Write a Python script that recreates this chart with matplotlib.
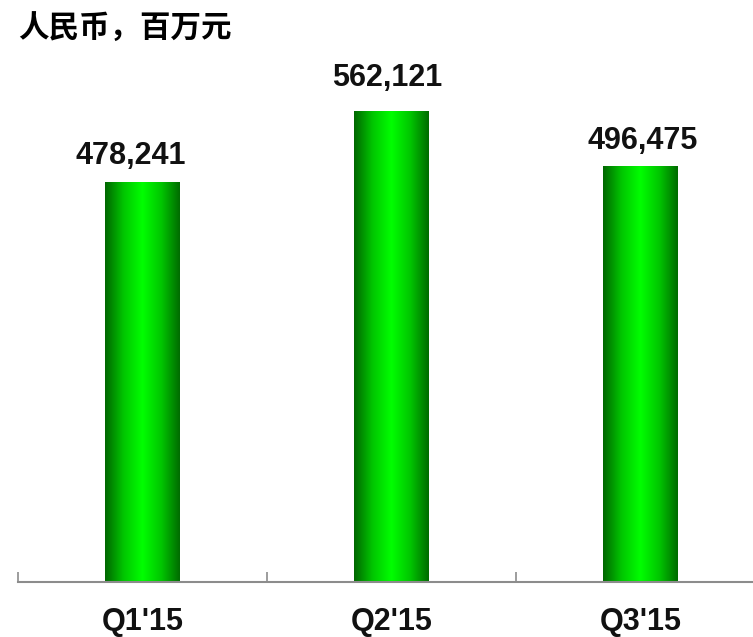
import matplotlib
matplotlib.use("Agg")
import matplotlib.pyplot as plt
import numpy as np
from matplotlib.colors import LinearSegmentedColormap

categories = ["Q1'15", "Q2'15", "Q3'15"]
values = [478241, 562121, 496475]
value_labels = ["478,241", "562,121", "496,475"]
title = "人民币，百万元"

# label placement tweaks (pixels)
label_dx = [-12, -4, 2]
label_gap = [16, 24, 16]

W, H = 753, 637
fig = plt.figure(figsize=(W / 100, H / 100), dpi=100)
ax = fig.add_axes([18 / W, (H - 582) / H, 747 / W, 582 / H])
ax.set_xlim(-0.5, 2.5)
ax.set_ylim(0, 696000)

x = np.arange(len(categories))
bars = ax.bar(x, values, width=0.3, color="none", edgecolor="none")

cmap = LinearSegmentedColormap.from_list(
    "g", [(0.0, (0, 0.40, 0)), (0.25, (0, 0.78, 0)), (0.5, (0, 1.0, 0)),
          (0.75, (0, 0.78, 0)), (1.0, (0, 0.42, 0))])
grad = np.linspace(0, 1, 256).reshape(1, -1)
for b in bars:
    x0, w, h = b.get_x(), b.get_width(), b.get_height()
    ax.imshow(grad, cmap=cmap, aspect="auto", extent=(x0, x0 + w, 0, h),
              interpolation="bicubic", zorder=2)

for b, lab, dx, gap in zip(bars, value_labels, label_dx, label_gap):
    ax.annotate(lab, (b.get_x() + b.get_width() / 2, b.get_height()),
                xytext=(dx, gap - 5), textcoords="offset pixels", ha="center", va="bottom",
                fontsize=22, fontweight="bold", family="Liberation Sans", color="#111111")

ax.set_xlim(-0.5, 2.5)
ax.set_ylim(0, 696000)

for s in ["top", "right", "left"]:
    ax.spines[s].set_visible(False)
ax.spines["bottom"].set_color("#8c8c8c")
ax.spines["bottom"].set_linewidth(1.5)
ax.set_yticks([])
ax.set_xticks([-0.5, 0.5, 1.5, 2.5], minor=False)
ax.set_xticklabels([])
ax.tick_params(axis="x", which="major", direction="in", length=7, width=1.2, color="#8c8c8c")
ax.set_xticks(x, minor=True)
ax.set_xticklabels(categories, minor=True, fontsize=22, fontweight="bold",
                   family="Liberation Sans", color="#111111")
ax.tick_params(axis="x", which="minor", length=0, pad=18)

fig.text(18 / W, 1 - 29 / H, title, fontsize=22, fontweight="bold",
         family=["Noto Sans CJK SC", "DejaVu Sans"], va="center", ha="left")

fig.savefig("out.png", dpi=100)
